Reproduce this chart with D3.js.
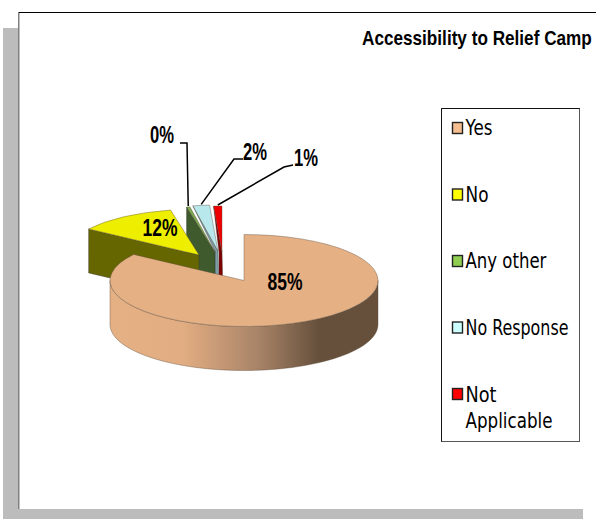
<!DOCTYPE html>
<html>
<head>
<meta charset="utf-8">
<script src="https://cdn.jsdelivr.net/npm/d3@7/dist/d3.min.js"></script>
<style>
  html, body { margin: 0; padding: 0; background: #fff; }
  svg { display: block; }
</style>
</head>
<body>
<svg id="chart" width="596" height="519"></svg>
<script>
// Survey shares for "Accessibility to Relief Camp"
const categories = ["Yes", "No", "Any other", "No Response", "Not Applicable"];
const shares = [84.6, 12, 0.4, 2, 1];
const chartTitle = "Accessibility to Relief Camp";

const topColors = ["#e6b085", "#eeee00", "#7aaa50", "#b8e8ec", "#ee0000"];
const sideColors = ["#66503c", "#666600", "#3f5a2c", "#7f9ea5", "#800000"];
const keyColors = ["#f6bd90", "#ffff00", "#8fce50", "#ccffff", "#ff0000"];

// Pie geometry: ellipse radii, wall height and where each wedge's tip sits
const rx = 134, ry = 46, wall = 44;
const tips = [[244, 280.5], [199, 255], [215, 252], [218, 251], [222, 252]];
// How far a sliver's wall narrows in from its outer corner (null = full quad)
const wallInset = [null, null, null, 3, 3];
// Elbows of the leader lines, from the label end inwards
const leaders = [null, null, [[180, 143], [187, 143]], [[243, 159], [234, 159]], [[293, 165], [284, 167]]];
const labelSpots = [[285, 282, 35], [160, 228, 35], [162, 135, 24], [255, 152, 24], [306, 158, 24]];

const svg = d3.select("#chart");
const defs = svg.append("defs");
const FONT = "'Liberation Sans', Arial, sans-serif";

// Places a text at x, baseline y, squeezed horizontally to the given width
function fitText(parent, str, x, y, width, attrs) {
  const t = parent.append("text").attr("fill", "#000").text(str);
  Object.entries(attrs).forEach(([k, v]) => t.attr(k, v));
  const natural = t.node().getComputedTextLength();
  t.attr("transform", `translate(${x},${y}) scale(${width / natural},1)`);
  return t;
}

const slices = d3.pie().sort(null).value(d => d)(shares);
const arc = d3.arc().innerRadius(0).outerRadius(rx);
const outer = (i, t) => [tips[i][0] + rx * Math.sin(t), tips[i][1] - ry * Math.cos(t)];
const line = d3.line();

// Page frame: drop shadow band, grey left rule, black top rule
svg.append("rect").attr("x", 3).attr("y", 28).attr("width", 15).attr("height", 491).attr("fill", "#bcbcbc");
svg.append("rect").attr("x", 3).attr("y", 509).attr("width", 580).attr("height", 10).attr("fill", "#bcbcbc");
svg.append("rect").attr("x", 18).attr("y", 12).attr("width", 1.5).attr("height", 497).attr("fill", "#808080");
svg.append("rect").attr("x", 19).attr("y", 12).attr("width", 577).attr("height", 1).attr("fill", "#000");

fitText(svg, chartTitle, 362, 45, 230, { "font-family": FONT, "font-weight": "bold", "font-size": 20 });

const pie = svg.append("g");

function drawTop(i) {
  pie.append("path")
    .attr("d", arc(slices[i]))
    .attr("transform", `translate(${tips[i][0]},${tips[i][1]}) scale(1,${ry / rx})`)
    .attr("fill", topColors[i])
    .attr("stroke", "#5a4c3a").attr("stroke-width", 0.4)
    .attr("vector-effect", "non-scaling-stroke");
}

// Radial wall on the leading edge of an exploded wedge
function drawRadialWall(i) {
  const c = outer(i, slices[i].startAngle);
  const [tx, ty] = tips[i];
  const inset = wallInset[i];
  const pts = inset === null
    ? [c, [tx, ty], [tx, ty + wall], [c[0], c[1] + wall]]
    : [c, [tx, ty], [tx + 1, ty + wall], [tx - inset, ty + wall], [tx - inset, ty]];
  pie.append("path").attr("d", line(pts) + "Z")
    .attr("fill", sideColors[i])
    .attr("stroke", "#333").attr("stroke-width", 0.4);
}

// Back to front: slivers, then the "No" wedge, then the large "Yes" wedge
[4, 3, 2].forEach(i => drawRadialWall(i));
[4, 3, 2].forEach(i => drawTop(i));
drawRadialWall(1);
drawTop(1);

// Curved outer wall of the "Yes" wedge, shaded from light to dark left to right
const grad = defs.append("linearGradient").attr("id", "yesWall")
  .attr("gradientUnits", "userSpaceOnUse")
  .attr("x1", tips[0][0] - rx).attr("x2", tips[0][0] + rx).attr("y1", 0).attr("y2", 0);
[[0, "#e6b085"], [0.27, "#e2ad82"], [0.55, "#a98468"], [0.78, "#66503c"], [1, "#66503c"]]
  .forEach(([o, c]) => grad.append("stop").attr("offset", o).attr("stop-color", c));

const wallAngles = d3.range(0, 181, 3).map(d => (90 + d) * Math.PI / 180);
const rim = wallAngles.map(t => outer(0, t));
const base = rim.map(([x, y]) => [x, y + wall]).reverse();
pie.append("path").attr("d", line(rim.concat(base)) + "Z")
  .attr("fill", "url(#yesWall)")
  .attr("stroke", "#5a4c3a").attr("stroke-width", 0.4);
drawTop(0);

// Leader lines for the small wedges
slices.forEach((s, i) => {
  if (!leaders[i]) return;
  const anchor = outer(i, (s.startAngle + s.endAngle) / 2);
  svg.append("path")
    .attr("d", line(leaders[i].concat([[anchor[0], anchor[1] - 1]])))
    .attr("fill", "none").attr("stroke", "#000").attr("stroke-width", 1.5);
});

// Percentage labels
const pct = d3.format(".0f");
slices.forEach((s, i) => {
  const [x, y, w] = labelSpots[i];
  fitText(svg, pct(shares[i]) + "%", x - w / 2, y + 8, w,
    { "font-family": FONT, "font-weight": "bold", "font-size": 23 });
});

// Legend box with swatches
const legend = svg.append("g");
legend.append("rect").attr("x", 441.5).attr("y", 108.5).attr("width", 138).attr("height", 333)
  .attr("fill", "#fff").attr("stroke", "#555").attr("stroke-width", 1);
legend.append("path").attr("d", "M441.5,441.5V108.5H579.5").attr("fill", "none").attr("stroke", "#111");

const keyY = d3.scalePoint().domain(categories).range([128, 394]);
const keyWidths = { "Yes": 27, "No": 23, "Any other": 81, "No Response": 103, "Not": 31, "Applicable": 87 };
const keyLabel = (str, y) => fitText(legend, str, 465.5, y, keyWidths[str],
  { "font-family": "'DejaVu Sans', sans-serif", "font-size": 21 });

categories.forEach((c, i) => {
  const y = keyY(c);
  legend.append("rect")
    .attr("x", 452.5).attr("y", y - 5.5).attr("width", 10).attr("height", 11)
    .attr("fill", keyColors[i]).attr("stroke", "#222").attr("stroke-width", 1.4);
  if (c === "Not Applicable") {
    keyLabel("Not", y + 8);
    keyLabel("Applicable", y + 34);
  } else {
    keyLabel(c, y + 7);
  }
});
</script>
</body>
</html>
